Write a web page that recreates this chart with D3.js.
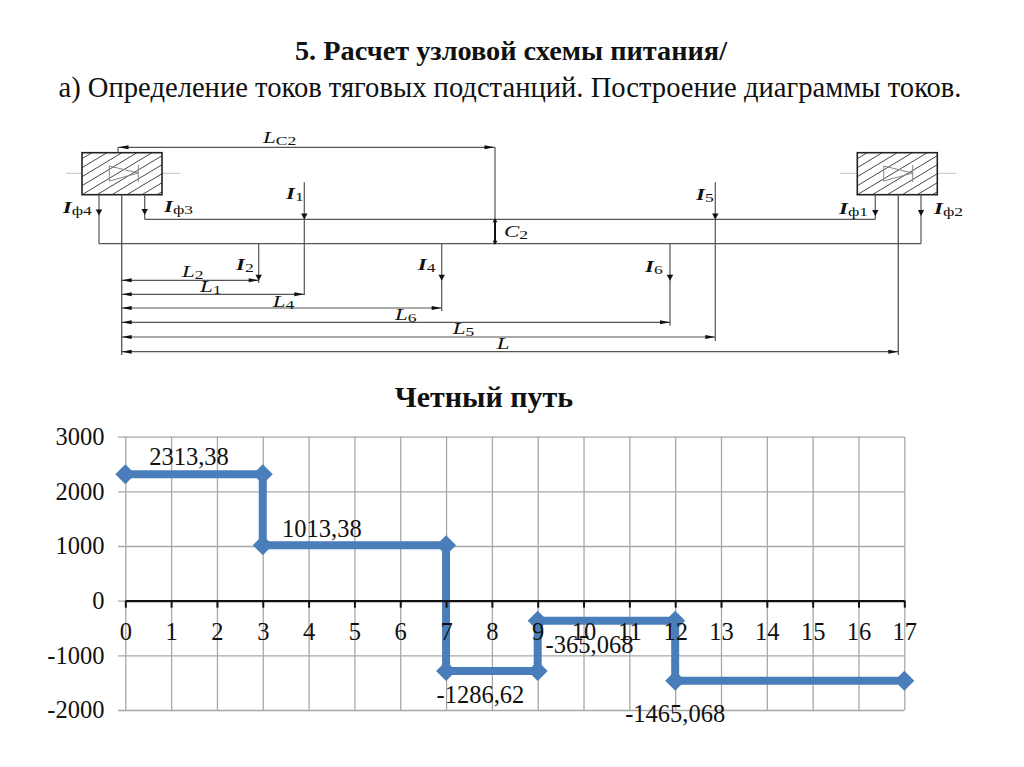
<!DOCTYPE html>
<html><head><meta charset="utf-8">
<script src="https://cdn.jsdelivr.net/npm/d3@7/dist/d3.min.js"></script>
<style>html,body{margin:0;padding:0;background:#fff}svg{display:block}text{font-family:"Liberation Serif",serif;fill:#111}</style>
</head><body><svg id="c" width="1024" height="767"></svg>
<script>
// ---- chart data ----
const titleMain = "5. Расчет узловой схемы питания/";
const titleSub = "а) Определение токов тяговых подстанций. Построение диаграммы токов.";
const chartTitle = "Четный путь";
const xCategories = d3.range(0, 18);
const xTickLabels = ["0","1","2","3","4","5","6","7","8","9","10","11","12","13","14","15","16","17"];
const yTicks = [3000, 2000, 1000, 0, -1000, -2000];
const stepX = [0, 3, 3, 7, 7, 9, 9, 12, 12, 17];
const stepY = [2313.38, 2313.38, 1013.38, 1013.38, -1286.62, -1286.62, -365.068, -365.068, -1465.068, -1465.068];
const valueLabels = ["2313,38", "1013,38", "-1286,62", "-365,068", "-1465,068"];
const labelX = [1.39, 4.29, 7.75, 10.13, 12.0];
const labelY = [2313.38, 1013.38, -1286.62, -365.068, -1465.068];
const labelDy = [-9.3, -8.6, 32, 32, 41];

// ---- scheme data (distance along the section) ----
const loadNames = ["2", "1", "4", "6", "5"];
const loadDist = [137, 182.6, 320, 548.3, 593.6];
const sectionLength = 776.6;
const sectorPostDist = 373.3;
const dimNames = ["2","1","4","6","5",""];
const dimDist = [137, 182.6, 320, 548.3, 593.6, 776.6];

const svg = d3.select("#c");
const ink = "#555";

// titles
svg.append("text").attr("x",511).attr("y",60).attr("text-anchor","middle").attr("font-size",28.3).attr("font-weight","bold").text(titleMain);
svg.append("text").attr("x",510).attr("y",97).attr("text-anchor","middle").attr("font-size",28.6).text(titleSub);
svg.append("text").attr("x",484).attr("y",407).attr("text-anchor","middle").attr("font-size",30).attr("font-weight","bold").text(chartTitle);

// ---- chart ----
const x = d3.scaleLinear().domain([0,17]).range([125.3,904.3]);
const y = d3.scaleLinear().domain([-2000,3000]).range([710,436.7]);
const g = svg.append("g");
const gridColor = "#a8a8a8";

const gx = g.append("g").attr("transform",`translate(0,${y(-2000)})`)
  .call(d3.axisBottom(x).tickValues(xCategories).tickSize(-(y(-2000)-y(3000))).tickFormat(""));
const gy = g.append("g").attr("transform",`translate(${x(0)-7.3},0)`)
  .call(d3.axisLeft(y).tickValues(yTicks).tickSize(-(x(17)-x(0)+7.3)).tickPadding(14).tickFormat(d=>d));
gx.select(".domain").remove(); gy.select(".domain").remove();
g.selectAll("line").attr("stroke",gridColor).attr("stroke-width",1.3);
gy.selectAll("text").attr("font-size",24.5).attr("font-family","Liberation Serif").attr("fill","#111").attr("dx",0.5);
gy.selectAll(".tick line").attr("x1",0);

// series
const pts = stepX.map((v,i)=>[v,stepY[i]]);
g.append("path").attr("d",d3.line().x(d=>x(d[0])).y(d=>y(d[1]))(pts))
  .attr("fill","none").attr("stroke","#4a7ebb").attr("stroke-width",8).attr("stroke-linejoin","miter");
g.selectAll(".mk").data(pts).join("path").attr("class","mk")
  .attr("d",d3.symbol(d3.symbolSquare,200))
  .attr("transform",d=>`translate(${x(d[0])},${y(d[1])}) rotate(45)`)
  .attr("fill","#4a7ebb");

// zero axis
const zero = g.append("g").attr("transform",`translate(0,${y(0)})`)
  .call(d3.axisBottom(x).tickValues(xCategories).tickSize(7).tickPadding(15).tickSizeOuter(0)
    .tickFormat((d,i)=>xTickLabels[i]));
zero.select(".domain").attr("stroke","#111").attr("stroke-width",2.2);
zero.selectAll("line").attr("stroke","#111").attr("stroke-width",2);
zero.selectAll("text").attr("font-size",24.5).attr("font-family","Liberation Serif").attr("fill","#111");

// value labels
g.selectAll(".vl").data(valueLabels).join("text").attr("class","vl")
  .attr("x",(d,i)=>x(labelX[i])).attr("y",(d,i)=>y(labelY[i])+labelDy[i])
  .attr("text-anchor","middle").attr("font-size",24.5).text(d=>d);

// ---- scheme ----
const sx = d3.scaleLinear().domain([0,sectionLength]).range([121.7,898.3]);
const s = svg.append("g").attr("fill","none");
const busTop = 219.3, busBot = 243.7, boxTop = 152.7, boxBot = 194.7;
const seg = (x1,y1,x2,y2,w=1.2,c=ink)=>s.append("line").attr("x1",x1).attr("y1",y1).attr("x2",x2).attr("y2",y2).attr("stroke",c).attr("stroke-width",w);
const tri = (pts,c="#111")=>s.append("path").attr("d",d3.line()(pts)+"Z").attr("fill",c).attr("stroke","none");
const down = (px,tip)=>tri([[px-3.2,tip-6],[px+3.2,tip-6],[px,tip]]);
const leftA = (px,py)=>tri([[px,py],[px+10,py-2],[px+10,py+2]]);
const rightA = (px,py)=>tri([[px,py],[px-10,py-2],[px-10,py+2]]);
const defs = svg.append("defs");

function station(id, x0, x1, lineA, lineB, tx){
  seg(lineA,173.3,x0,173.3,.9,"#bbb"); seg(x1,173.3,lineB,173.3,.9,"#bbb");
  defs.append("clipPath").attr("id",id).append("rect").attr("x",x0).attr("y",boxTop).attr("width",x1-x0).attr("height",boxBot-boxTop);
  const h = s.append("g").attr("clip-path",`url(#${id})`);
  d3.range(-5,7).forEach(k=>{
    const ox = x0 + k*15;
    h.append("line").attr("x1",ox).attr("y1",boxBot).attr("x2",ox+70).attr("y2",boxTop).attr("stroke","#333").attr("stroke-width",.9);
  });
  s.append("rect").attr("x",x0).attr("y",boxTop).attr("width",x1-x0).attr("height",boxBot-boxTop).attr("stroke","#222").attr("stroke-width",1.6);
  s.append("path").attr("d",`M${tx},166V181L${tx+29},173Z`).attr("stroke","#888").attr("fill","none").attr("stroke-width",1);
  seg(tx+29,165,tx+29,182,1,"#888");
}
station("stL",82,162,66,180,109.3);
station("stR",857.3,937.3,840,956,883.7);

// buses
seg(144.7,busTop,875.3,busTop);
seg(99,busBot,921,busBot);
// feeders
[[99,busBot,215.5],[144.7,busTop,215],[875.3,busTop,216],[921,busBot,216]].forEach(([px,end,tip])=>{
  seg(px,boxBot,px,end); down(px,tip);
});
// section ends
seg(sx(0),boxBot,sx(0),355,1.3);
seg(sx(sectionLength),boxBot,sx(sectionLength),355,1.3);

// LC2 and C2
const postX = sx(sectorPostDist);
seg(118,147.3,postX,147.3); seg(118,147.3,118,boxTop); seg(postX,147.3,postX,busTop);
leftA(118.5,147.3); rightA(postX-.5,147.3);
seg(postX,busTop,postX,busBot,2,"#111");
tri([[postX,busTop-1],[postX-2.5,busTop+3],[postX+2.5,busTop+3]]);
tri([[postX,busBot+1],[postX-2.5,busBot-3],[postX+2.5,busBot-3]]);

// loads and dimension lines
const loadTop = [busBot, 182.3, busBot, busBot, 182.3];
const loadBottom = [283, 295, 311, 325.7, 341];
const loadTip = [280.7, 219.5, 280.7, 280.7, 219.5];
const dimY = [280.3, 294.3, 308, 322.3, 337, 351.7];
loadDist.forEach((d,i)=>{
  seg(sx(d),loadTop[i],sx(d),loadBottom[i]);
  down(sx(d),loadTip[i]);
});
dimDist.forEach((d,i)=>{
  seg(sx(0),dimY[i],sx(d),dimY[i]);
  leftA(sx(0),dimY[i]); rightA(sx(d),dimY[i]);
});

// scheme labels
const schemeLabels = [
 ["L","C2",263,143],["I","ф4",62.7,212.7],["I","ф3",164,212],["I","1",286,199],["C","2",504,236.7],
 ["I","2",236,270],["I","4",417.7,270],["L","2",182,276.7],["L","1",200,291.7],["L","4",272.7,306.7],
 ["L","6",395,320],["L","5",452.7,334],["L","",496.7,349],["I","5",696,200],["I","6",645,272],
 ["I","ф1",839,214],["I","ф2",934,214]];
const lab = svg.append("g");
schemeLabels.forEach(([m,sub,px,py])=>{
  const t = lab.append("text").attr("transform",`translate(${px},${py}) scale(1.35,1)`).attr("font-size",17);
  t.append("tspan").attr("font-style","italic").attr("font-weight",m==="I"?"bold":"normal").text(m);
  if(sub) t.append("tspan").attr("dy",2).attr("font-size",13).text(sub);
});
</script></body></html>
